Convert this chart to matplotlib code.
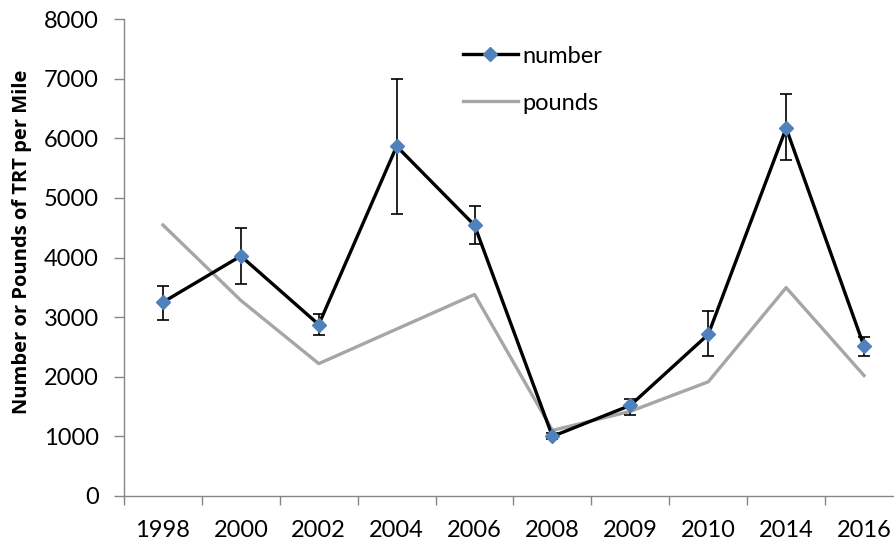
import numpy as np
import matplotlib
matplotlib.use("Agg")
import matplotlib.pyplot as plt

# survey years (categorical axis)
years = ["1998", "2000", "2002", "2004", "2006", "2008", "2009", "2010", "2014", "2016"]

# number of TRT per mile, with error bar ends
number = [3250, 4025, 2875, 5865, 4540, 1000, 1520, 2710, 6170, 2510]
number_hi = [3530, 4500, 3060, 6990, 4860, 1060, 1625, 3095, 6735, 2670]
number_lo = [2960, 3560, 2700, 4725, 4230, 960, 1365, 2340, 5630, 2340]

# pounds of TRT per mile
pounds = [4545, 3280, 2220, 2800, 3380, 1100, 1420, 1915, 3495, 2020]

plt.rcParams['font.family'] = ['Lato', 'DejaVu Sans']

fig = plt.figure(figsize=(8.95, 5.44), dpi=100)
ax = fig.add_axes([124 / 895, 48 / 544, 779 / 895, 477 / 544])

x = np.arange(len(years))
num = np.array(number)
yerr = [num - np.array(number_lo), np.array(number_hi) - num]

ln_p, = ax.plot(x, pounds, color="#A6A6A6", lw=2.4, zorder=2)
ax.errorbar(x, num, yerr=yerr, fmt="none", ecolor="black", elinewidth=1.2,
            capsize=4, capthick=1.2, zorder=3)
ln_n, = ax.plot(x, num, color="black", lw=2.4, marker="D", markersize=7.5,
                markerfacecolor="#4F81BD", markeredgecolor="#4F81BD", zorder=4)

ax.set_xlim(-0.5, len(years) - 0.5)
ax.set_ylim(0, 8000)
ax.set_yticks(range(0, 8001, 1000))
ax.set_xticks(x)
ax.set_xticklabels(years)
ax.set_xticks(np.arange(-0.5, len(years), 1), minor=True)
ax.tick_params(axis="x", which="major", length=0, pad=17, labelsize=17)
ax.tick_params(axis="x", which="minor", length=6.5, color="#868686", width=1)
ax.tick_params(axis="y", length=7, color="#868686", width=1, labelsize=17, pad=11)

for s in ["top", "right"]:
    ax.spines[s].set_visible(False)
for s in ["left", "bottom"]:
    ax.spines[s].set_color("#868686")
    ax.spines[s].set_linewidth(1)

fig.text(22 / 895, 1 - 241.5 / 544, "Number or Pounds of TRT per Mile",
         rotation=90, ha="center", va="center", fontsize=14.5,
         fontweight="bold", family=["Open Sans", "DejaVu Sans"])

ax.legend([ln_n, ln_p], ["number", "pounds"], loc="upper left",
          bbox_to_anchor=(0.42, 0.969), frameon=False, borderpad=0,
          fontsize=17, handlelength=2.33, handletextpad=0.2, labelspacing=1.1)

fig.savefig("out.png", dpi=100)
